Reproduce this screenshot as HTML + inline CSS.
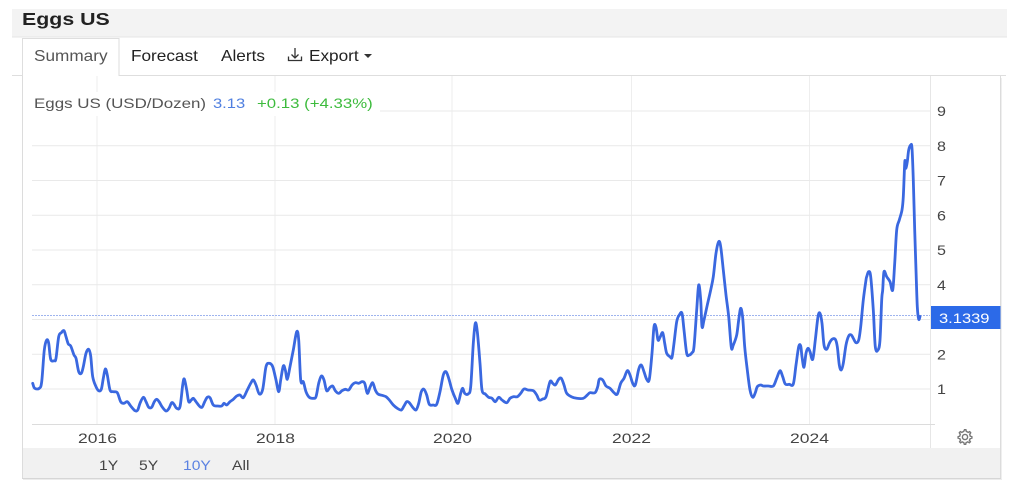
<!DOCTYPE html>
<html>
<head>
<meta charset="utf-8">
<style>
  html,body{margin:0;padding:0;background:#fff;}
  body{width:1024px;height:489px;overflow:hidden;}
  svg{display:block;}
  text{font-family:"Liberation Sans",Arial,sans-serif;}
</style>
</head>
<body>
<svg width="1024" height="489" viewBox="0 0 1024 489" xmlns="http://www.w3.org/2000/svg">
  <!-- header -->
  <rect x="12" y="9" width="995" height="28" fill="#f3f3f3"/>
  <line x1="12" y1="37" x2="1007" y2="37" stroke="#e6e6e6" stroke-width="1"/>
  <text transform="translate(22,25) scale(1.22,1)" font-size="17.5" font-weight="bold" fill="#222">Eggs US</text>

  <!-- tabs -->
  <line x1="12" y1="75.5" x2="23" y2="75.5" stroke="#dedede"/>
  <line x1="119" y1="75.5" x2="1006" y2="75.5" stroke="#dedede"/>
  <path d="M22.5,76 L22.5,38.5 L119,38.5 L119,76" fill="#fff" stroke="#dedede"/>
  <text transform="translate(34,61) scale(1.11,1)" font-size="15.5" fill="#555">Summary</text>
  <text transform="translate(131,61) scale(1.11,1)" font-size="15.5" fill="#222">Forecast</text>
  <text transform="translate(221,61) scale(1.11,1)" font-size="15.5" fill="#222">Alerts</text>
  <!-- download icon -->
  <g stroke="#333" stroke-width="1.3" fill="none">
    <line x1="295" y1="48" x2="295" y2="58"/>
    <polyline points="291.5,54.5 295,58 298.5,54.5"/>
    <polyline points="288.5,56.5 288.5,60.5 301.5,60.5 301.5,56.5"/>
  </g>
  <text transform="translate(309,61) scale(1.11,1)" font-size="15.5" fill="#222">Export</text>
  <polygon points="364,54 372,54 368,58" fill="#333"/>

  <!-- panel borders -->
  <line x1="22.5" y1="76" x2="22.5" y2="478" stroke="#dcdcdc"/>
  <line x1="1000.5" y1="76" x2="1000.5" y2="478" stroke="#dcdcdc"/>
  <rect x="23" y="448" width="977" height="30" fill="#f1f1f1"/>
  <line x1="22" y1="478.5" x2="1001" y2="478.5" stroke="#d6d6d6"/>
  <line x1="23" y1="479.5" x2="1002" y2="479.5" stroke="#ececec"/>
  <line x1="1001.5" y1="78" x2="1001.5" y2="479" stroke="#efefef"/>

  <!-- y axis separator -->
  <line x1="930.5" y1="76" x2="930.5" y2="448" stroke="#e6e6e6"/>

  <!-- vertical gridlines -->
  <g stroke="#eeeeee" stroke-width="1">
    <line x1="97" y1="76" x2="97" y2="424"/>
    <line x1="275" y1="76" x2="275" y2="424"/>
    <line x1="452" y1="76" x2="452" y2="424"/>
    <line x1="631.5" y1="76" x2="631.5" y2="424"/>
    <line x1="809.5" y1="76" x2="809.5" y2="424"/>
  </g>
  <!-- horizontal gridlines -->
  <g stroke="#e9e9e9" stroke-width="1">
    <line x1="32" y1="111" x2="930" y2="111"/>
    <line x1="32" y1="145.8" x2="930" y2="145.8"/>
    <line x1="32" y1="180.5" x2="930" y2="180.5"/>
    <line x1="32" y1="215.3" x2="930" y2="215.3"/>
    <line x1="32" y1="250" x2="930" y2="250"/>
    <line x1="32" y1="284.8" x2="930" y2="284.8"/>
    <line x1="32" y1="319.5" x2="930" y2="319.5"/>
    <line x1="32" y1="354.3" x2="930" y2="354.3"/>
    <line x1="32" y1="389" x2="930" y2="389"/>
  </g>
  <line x1="32" y1="424.5" x2="935" y2="424.5" stroke="#dcdcdc"/>

  <!-- legend -->
  <rect x="30" y="92" width="350" height="24" fill="#fff"/>
  <text transform="translate(34,108) scale(1.21,1)" font-size="14" fill="#555">Eggs US (USD/Dozen)</text>
  <text transform="translate(213,108) scale(1.18,1)" font-size="14" fill="#4f7fe0">3.13</text>
  <text transform="translate(257,108) scale(1.2,1)" font-size="14" fill="#3dbb3d">+0.13 (+4.33%)</text>

  <!-- y labels -->
  <g font-size="14" fill="#444">
    <text transform="translate(937,116) scale(1.15,1)">9</text>
    <text transform="translate(937,151) scale(1.15,1)">8</text>
    <text transform="translate(937,185.5) scale(1.15,1)">7</text>
    <text transform="translate(937,220.3) scale(1.15,1)">6</text>
    <text transform="translate(937,255) scale(1.15,1)">5</text>
    <text transform="translate(937,289.8) scale(1.15,1)">4</text>
    <text transform="translate(937,359.3) scale(1.15,1)">2</text>
    <text transform="translate(937,394) scale(1.15,1)">1</text>
  </g>

  <!-- x labels -->
  <g font-size="14" fill="#444" text-anchor="middle">
    <text transform="translate(97.5,443) scale(1.25,1)">2016</text>
    <text transform="translate(275.5,443) scale(1.25,1)">2018</text>
    <text transform="translate(452.5,443) scale(1.25,1)">2020</text>
    <text transform="translate(631.5,443) scale(1.25,1)">2022</text>
    <text transform="translate(809.5,443) scale(1.25,1)">2024</text>
  </g>

  <!-- current value dotted line -->
  <line x1="32" y1="315.5" x2="930" y2="315.5" stroke="#9fb4ee" stroke-width="1" stroke-dasharray="2,1"/>

  <!-- series -->
  <path id="smooth" fill="none" stroke="#3a68e0" stroke-width="2.8" stroke-linejoin="round" stroke-linecap="round" d=""/>
  <polyline id="series" fill="none" stroke="#3a68e0" stroke-width="2.8" stroke-linejoin="round" stroke-linecap="round" points="
32.7,383.3 34.7,388.3 39.3,388.3 41.7,381.7 44.3,350 46.7,340 48.7,343.3 50.7,359.3 54.3,360.7 56,358.3
58.7,336.7 61.3,332.7 64,330.7 66,336.7 68.3,344 70.7,346 74,355 76,358.3 78.7,371.7 81.3,373.3
83.3,366.7 86,353.3 88.7,349.3 90.7,356 92.7,376.7 96,386.7 98.7,390.7 101.3,389.3 103.3,378.3 105.3,369
107.3,375 110,390 113.3,391.7 117.3,392.7 120.7,401.7 124,403.3 127.3,401.7 130.7,406 135,410.7 137.7,410
140,403.3 143.3,397.3 146,401.7 148.7,407.3 151.7,407.3 154.3,401.7 156.7,399.3 159.3,402 162,406.7 166,411
169,408.3 171.7,402.7 174,404.3 176.7,408.3 180,406.7 182.7,385 184.3,379 186.7,390 188.7,401.7 191.3,400
193.3,398.3 196,401.7 199.3,406 202,407.3 204.7,401.7 207.3,397.3 210,397.7 213.3,405 217.3,406 221.7,406
224,403.3 226.7,405 230,401.7 233.3,399.3 236.7,396 240,395 243.3,397.7 247.3,390 250.7,383.3 253.3,380
256,385 259.3,394 262.7,389.3 266,366.7 269.3,363.3 272.7,366.7 276,380 278.7,391.7 280.7,380 283.3,366
285.3,370 287.3,379.3 290,366.7 293.3,350 296.7,331.7 298.7,340 300.7,380 303.3,381.7 306,391.7 309.3,397.3
313.3,398.3 316,396.7 318.7,383.3 321.3,376 324,380 326.7,390.7 330,387.3 332.7,386 335.3,390.7 338.7,393.3
342,390.7 345.3,389.3 348.7,390 352,385 355.3,382.7 358.7,383.3 362,381.7 364.7,383.3 367.3,393.3 370,387.3
372.7,382.7 375.3,390 378,394 382,395.3 386,396.7 389.3,400 393.3,405 397.3,408.3 401.3,410 404,406
406.7,401.7 409.3,402.7 412.7,407.3 416,410 418.7,403.3 421.3,391.7 424,389.3 426.7,395 429.3,404.3 433.3,405
436.7,404.3 440,391.7 443.3,375 446,371.7 448.7,378.3 452,390 455.3,398.3 458,403.3 460.7,393.3 462.7,388.3
464.7,393.3 468,394 470.7,386.7 473.3,343.3 475.3,323.3 477.3,331.7 480,363.3 482,390 485.3,394 488.7,397.3
492,398.3 495.3,401.7 498.7,397.3 502,400 506.7,402.7 510,398.3 513.3,396.7 517.3,396.7 520.7,393.3 524,389
528,390 533.3,390.7 536.7,395 539.3,400 542.7,399 546,396.7 550,381.7 552.7,383.3 555.3,385 558.7,379.3
561.3,378.3 564,385 566.7,393.3 571.3,396.7 576.7,398.3 583.3,398.3 587.3,395 590,392.7 595,392.7 597.7,386.7
599.3,379.3 602.7,380 606,386 610,388.3 614,392.7 617.3,394 620.7,383.3 624,378.3 627.3,370.7 630,375
632.7,383.3 635.3,385 638.7,369.3 641.3,365 644,371.7 646.7,379.3 649.3,379.3 652,353.3 654,326.7 656,327.3
658,340 660,337.3 662.7,332.7 664.7,343.3 666.7,353.3 670,356.7 672,357.3 674,343.3 676.7,321.7 679.3,315
682,313.3 684,330 686.7,353.3 689.3,355 692,352.7 694,346.7 696.7,310 698.7,285 700.7,300 702,326.7
704,320 707.3,305 710.7,290 713.3,276.7 716,253.3 718.7,241.7 720.7,246.7 723.3,270 726,295 728.7,316.7
731.3,347.3 733.3,345 736.7,335 738.7,320 740.7,308.3 742.7,318 744.7,346.7 747.3,370 750,390 752.7,397.3
755.3,392.7 757.3,386.7 760.7,385 763.3,386 768.3,386 773.3,386 776.7,378.3 780,370.7 782.7,376.7 785.3,384
789.3,384.3 793.3,384 796,365 798.7,346.7 800.7,346 802,356.7 804,367.3 806,353.3 808,348.3 810,351.7
812.7,359.3 815.3,340 818,316.7 820,313.3 822,323.3 824,345 826.7,349.3 829.3,343.3 832,339.3 835.3,339.3
837.3,346.7 839.3,365 841.3,370 843.3,363.3 846,345 848.7,336 851.3,335 853.3,338.3 856,342.7 858.7,340
860.7,326.7 863.3,300 866,280 866.7,276.7 868.7,271.7 870.7,276.7 873.3,310 875.3,346.7 878,350 880,340
881.7,300 882.7,290 884,271.7 886.7,276.7 890,281.7 892.7,290 894.7,263.3 896.7,230 899.3,220 902,210
903.3,196.7 904.7,163.3 905.3,162.7 906,168.3 907.3,161.7 908.7,150 910.7,145 912,148.3 913.3,180 914.7,230
916,270 917.3,306.7 918.7,319.3 920,316.5"/>

  <!-- current value label -->
  <rect x="931" y="306" width="69.5" height="23" fill="#2c6ae8"/>
  <text transform="translate(939,323) scale(1.18,1)" font-size="14" fill="#fff">3.1339</text>

  <!-- gear icon -->
  <g transform="translate(965,437)" fill="none" stroke="#777" stroke-width="1.4">
    <circle r="2.6"/>
    <path d="M0,-7 L1.4,-7 L1.8,-5.3 A5.4,5.4 0 0 1 3.6,-4.3 L5.2,-5.1 L6.2,-3.9 L5.2,-2.4 A5.4,5.4 0 0 1 5.7,-0.6 L7.4,0 L7.4,1.4 L5.7,1.9 A5.4,5.4 0 0 1 4.9,3.6 L5.9,5.1 L4.8,6.1 L3.3,5.1 A5.4,5.4 0 0 1 1.6,5.9 L1.2,7.6 L-0.2,7.6 L-0.7,5.9 A5.4,5.4 0 0 1 -2.4,5.1 L-3.9,6.1 L-4.9,5.1 L-4,3.6 A5.4,5.4 0 0 1 -4.7,1.9 L-6.4,1.4 L-6.4,0 L-4.7,-0.6 A5.4,5.4 0 0 1 -4.2,-2.4 L-5.2,-3.9 L-4.2,-5.1 L-2.6,-4.3 A5.4,5.4 0 0 1 -0.8,-5.3 Z" transform="translate(-0.5,-0.3)"/>
  </g>

  <!-- range buttons -->
  <g font-size="14">
    <text transform="translate(99,470) scale(1.12,1)" fill="#444">1Y</text>
    <text transform="translate(139,470) scale(1.12,1)" fill="#444">5Y</text>
    <text transform="translate(183,470) scale(1.12,1)" fill="#5b82e2">10Y</text>
    <text transform="translate(232,470) scale(1.12,1)" fill="#444">All</text>
  </g>
</svg>
<script>
(function(){
  try{
    var pl=document.getElementById('series');
    var raw=pl.getAttribute('points').trim().split(/\s+/);
    var p=raw.map(function(s){var a=s.split(',');return [parseFloat(a[0]),parseFloat(a[1])];});
    var d='M'+p[0][0]+','+p[0][1];
    var t=0.5;
    for(var i=0;i<p.length-1;i++){
      var p0=p[i>0?i-1:i],p1=p[i],p2=p[i+1],p3=p[i+2<p.length?i+2:i+1];
      var c1x=p1[0]+(p2[0]-p0[0])/6*t*2,c1y=p1[1]+(p2[1]-p0[1])/6*t*2;
      var c2x=p2[0]-(p3[0]-p1[0])/6*t*2,c2y=p2[1]-(p3[1]-p1[1])/6*t*2;
      d+=' C'+c1x.toFixed(2)+','+c1y.toFixed(2)+' '+c2x.toFixed(2)+','+c2y.toFixed(2)+' '+p2[0]+','+p2[1];
    }
    document.getElementById('smooth').setAttribute('d',d);
    pl.style.display='none';
  }catch(e){}
})();
</script>
</body>
</html>
